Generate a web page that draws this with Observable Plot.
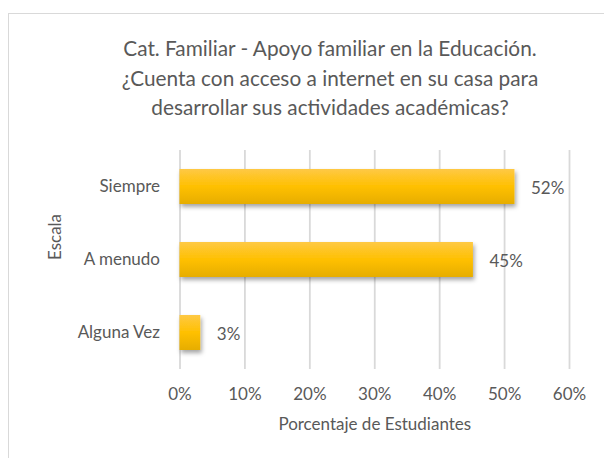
<!DOCTYPE html>
<html>
<head>
<meta charset="utf-8">
<script src="https://cdn.jsdelivr.net/npm/d3@7"></script>
<script src="https://cdn.jsdelivr.net/npm/@observablehq/plot@0.6"></script>
<style>
  html, body { margin: 0; padding: 0; background: #fff; }
  #wrap { position: relative; width: 604px; height: 458px; overflow: hidden; font-family: Lato, "Open Sans", sans-serif; color: #595959; }
  #frame { position: absolute; left: 8px; top: 13px; width: 700px; height: 600px; border: 1.5px solid #d9d9d9; box-sizing: border-box; }
  #title { position: absolute; left: 0; top: 33px; width: 660px; text-align: center; font-size: 20.8px; line-height: 29.5px; color: #595959; }
  #chart { position: absolute; left: 0; top: 130px; }
</style>
</head>
<body>
<div id="wrap">
  <div id="frame"></div>
  <div id="title"></div>
  <div id="chart"></div>
</div>
<script>
const titleLines = [
  "Cat. Familiar - Apoyo familiar en la Educación.",
  "¿Cuenta con acceso a internet en su casa para",
  "desarrollar sus actividades académicas?"
];
const categories = ["Siempre", "A menudo", "Alguna Vez"];
const values = [51.6, 45.2, 3.2];
const xTicks = [0, 10, 20, 30, 40, 50, 60];
const xLabel = "Porcentaje de Estudiantes";
const yLabel = "Escala";

document.getElementById("title").innerHTML = titleLines.map(s => `<div>${s}</div>`).join("");

const data = categories.map((c, i) => ({cat: c, value: values[i]}));
const textColor = "#595959";
const fs = 17;

const plot = Plot.plot({
  width: 604,
  height: 328,
  marginTop: 20,
  marginBottom: 89,
  marginLeft: 179.5,
  marginRight: 35,
  style: {fontFamily: "Lato, 'Open Sans', sans-serif", fontSize: fs + "px", color: textColor, background: "transparent"},
  x: {domain: [0, 60], ticks: xTicks},
  y: {domain: categories, paddingInner: 0.52, paddingOuter: 0.26},
  marks: [
    Plot.gridX(xTicks, {stroke: "#d9d9d9", strokeOpacity: 1, strokeWidth: 1.8}),
    Plot.axisX(xTicks, {tickSize: 0, tickPadding: 18, tickFormat: d => d + "%", label: null, fill: textColor, fontSize: fs}),
    Plot.axisY({tickSize: 0, tickPadding: 20, label: null, fill: textColor, fontSize: fs}),
    Plot.barX(data, {x: "value", y: "cat", fill: "url(#barGrad)", className: "bars"}),
    Plot.text(data, {x: "value", y: "cat", text: d => Math.round(d.value) + "%", dx: 16, dy: 1.5, textAnchor: "start", fill: textColor, fontSize: fs}),
    Plot.text([xLabel], {frameAnchor: "bottom", dy: 55, lineAnchor: "middle", fill: textColor, fontSize: fs}),
    Plot.text([yLabel], {frameAnchor: "left", dx: -124.5, rotate: -90, lineAnchor: "middle", fill: textColor, fontSize: fs})
  ]
});

const svg = d3.select(plot);
const defs = svg.insert("defs", ":first-child");
const g = defs.append("linearGradient").attr("id", "barGrad").attr("x1", 0).attr("y1", 0).attr("x2", 0).attr("y2", 1);
g.append("stop").attr("offset", "0%").attr("stop-color", "#FEC945");
g.append("stop").attr("offset", "50%").attr("stop-color", "#FFC000");
g.append("stop").attr("offset", "100%").attr("stop-color", "#E6AD00");
const f = defs.append("filter").attr("id", "shadow").attr("x", "-10%").attr("y", "-30%").attr("width", "130%").attr("height", "180%");
f.append("feDropShadow").attr("dx", 1.5).attr("dy", 3).attr("stdDeviation", 2).attr("flood-color", "#000").attr("flood-opacity", 0.35);
svg.selectAll("g.bars").attr("filter", "url(#shadow)");

document.getElementById("chart").appendChild(plot);
</script>
</body>
</html>
